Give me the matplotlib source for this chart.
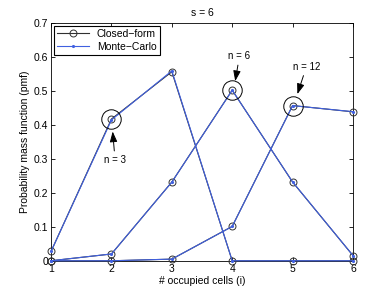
import matplotlib
matplotlib.use('Agg')
import matplotlib.pyplot as plt

plt.rcParams['font.family'] = ['Liberation Sans', 'DejaVu Sans']

cells = [1, 2, 3, 4, 5, 6]

# closed-form pmf for s = 6
cf_n3 = [0.0278, 0.4167, 0.5556, 0.0, 0.0, 0.0]
cf_n6 = [0.0001, 0.0199, 0.2315, 0.5015, 0.2315, 0.0154]
cf_n12 = [0.0, 0.0, 0.0048, 0.1011, 0.4563, 0.4378]

# monte-carlo estimates
mc_n3 = [0.0276, 0.4140, 0.5584, 0.0, 0.0, 0.0]
mc_n6 = [0.0001, 0.0201, 0.2312, 0.5012, 0.2319, 0.0155]
mc_n12 = [0.0, 0.0, 0.0049, 0.1008, 0.4560, 0.4383]

# highlighted points and labels
hl_x = [2, 4, 5]
hl_y = [0.4167, 0.5015, 0.4563]
hl_text = ['n = 3', 'n = 6', 'n = 12']
hl_text_xy = [(2.06, 0.296), (4.12, 0.602), (5.23, 0.571)]
hl_tip_xy = [(2.02, 0.380), (4.05, 0.528), (5.08, 0.490)]

fig = plt.figure(figsize=(3.9, 2.94), dpi=100)
ax = fig.add_axes([0.131, 0.113, 0.774, 0.81])

for i, (cf, mc) in enumerate(zip([cf_n3, cf_n6, cf_n12], [mc_n3, mc_n6, mc_n12])):
    ax.plot(cells, cf, '-o', color='#303030', lw=0.8, ms=5, mfc='none', mew=0.7,
            clip_on=False, label='Closed\u2212form' if i == 0 else None, zorder=3)
    ax.plot(cells, mc, '-', marker='.', color='#4060e0', lw=0.8, ms=2.5,
            clip_on=False, label='Monte\u2212Carlo' if i == 0 else None, zorder=4)

ax.plot(hl_x, hl_y, 'o', ms=14, mfc='none', mec='black', mew=0.7, zorder=5)

for txt, txy, tip in zip(hl_text, hl_text_xy, hl_tip_xy):
    ax.annotate(txt, xy=tip, xytext=txy, ha='center', va='center', fontsize=7,
                arrowprops=dict(arrowstyle='-|>,head_length=0.7,head_width=0.25',
                                color='black', lw=0.7,
                                mutation_scale=9, shrinkA=1, shrinkB=0))

ax.set_xlim(1, 6)
ax.set_ylim(0, 0.7)
ax.set_xticks(cells)
ax.set_yticks([0, 0.1, 0.2, 0.3, 0.4, 0.5, 0.6, 0.7])
ax.set_yticklabels(['0', '0.1', '0.2', '0.3', '0.4', '0.5', '0.6', '0.7'])
ax.tick_params(direction='in', top=True, right=True, labelsize=7.5, length=3, width=0.6, pad=2)
for sp in ax.spines.values():
    sp.set_linewidth(0.6)

ax.set_title('s = 6', fontsize=7.5, pad=5)
ax.set_xlabel('# occupied cells (i)', fontsize=7.5, labelpad=2)
ax.set_ylabel('Probability mass function (pmf)', fontsize=7.5, labelpad=3)

leg = ax.legend(loc='upper left', fontsize=7.5, fancybox=False, edgecolor='black',
                framealpha=1, borderpad=0.3, handlelength=3, labelspacing=0.3,
                borderaxespad=0.3)
leg.get_frame().set_linewidth(0.8)

fig.savefig('out.png', dpi=100)
